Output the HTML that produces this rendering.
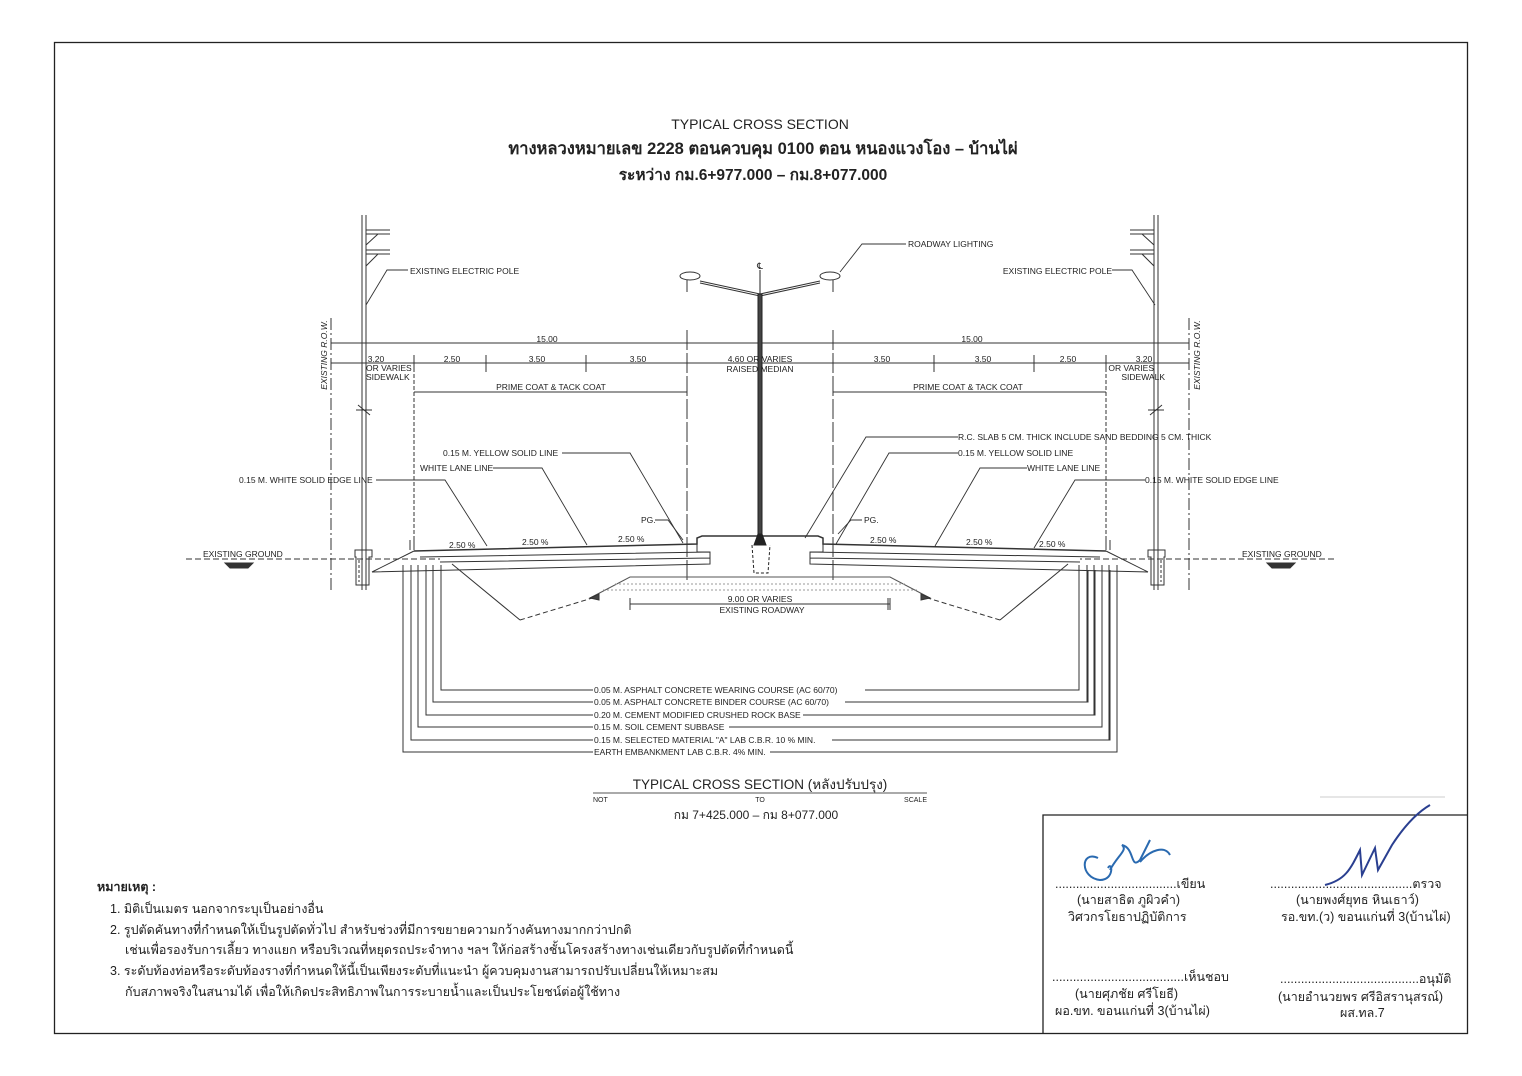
<!DOCTYPE html>
<html><head><meta charset="utf-8"><style>
html,body{margin:0;padding:0;background:#fff;}
svg{display:block;}
text{font-family:"Liberation Sans","DejaVu Sans",sans-serif;fill:#222;}
.s{font-size:8.5px;}
.t{font-size:12.5px;}
</style></head><body>
<svg width="1522" height="1076" viewBox="0 0 1522 1076" xmlns="http://www.w3.org/2000/svg">
<rect x="54.5" y="42.5" width="1413" height="991" fill="none" stroke="#222" stroke-width="1.3"/>
<!-- titles -->
<text x="760" y="129" text-anchor="middle" font-size="14">TYPICAL  CROSS  SECTION</text>
<text x="763" y="154" text-anchor="middle" font-size="16.5" font-weight="bold">ทางหลวงหมายเลข  2228   ตอนควบคุม 0100   ตอน หนองแวงโอง – บ้านไผ่</text>
<text x="753" y="180" text-anchor="middle" font-size="15.5" font-weight="bold">ระหว่าง   กม.6+977.000  –  กม.8+077.000</text>

<g id="half" fill="none" stroke="#333" stroke-width="1">
  <line x1="362" y1="215" x2="362" y2="590"/><line x1="366" y1="215" x2="366" y2="590"/>
  <path d="M366 230 H390 M366 234 H390 M366 250 H390 M366 254 H390 M366 245 L378 234 M366 266 L378 254"/>
  <path d="M355 550 H372 V557 H369 V585 H356 V557 H355 Z"/>
  <path d="M359 560 V582 M366 560 V582" stroke-dasharray="3 2"/>
  <path d="M356 410 H372 M358 405 L370 415" />
  <line x1="331" y1="318" x2="331" y2="591" stroke-dasharray="12 3 2 3"/>
  <line x1="414" y1="356" x2="414" y2="550" stroke-dasharray="4 2"/>
  <line x1="687" y1="330" x2="687" y2="580" stroke-dasharray="20 3"/>
  <line x1="331" y1="343" x2="760" y2="343"/>
  <line x1="331" y1="363" x2="760" y2="363"/>
  <path d="M486 355 V372 M586 355 V372 M414 355 V372"/>
  <line x1="414" y1="392" x2="687" y2="392"/>
  <line x1="186" y1="559" x2="440" y2="559" stroke-dasharray="6 3"/>
  <path d="M225 563 H253 L248 568 H230 Z" fill="#333"/>
  <path d="M414 551 L697 544 V538 L702 536 H760" stroke-width="1.5"/>
  <path d="M372 572 L414 551"/>
  <path d="M420 557 L710 552 M440 562 L710 558 M372 572 L710 564 V552 L697 552 L697 544"/>
  <path d="M452 564 L520 620"/>
  <path d="M520 620 L599 596" stroke-dasharray="5 3"/>
  <path d="M590 598 L630 577 H760" stroke="#555"/>
  <path d="M615 584 H760 M603 590 H760" stroke="#999" stroke-dasharray="2 2"/>
  <path d="M590 598 L599 594 L599 600 Z" fill="#444"/>
  <path d="M630 598 V610 M630 604 H760"/>
  <path d="M403 565 V752 H593 M411 565 V740 H593 M418 565 V727 H593 M426 565 V715 H593 M433 565 V702 H593 M441 565 V690 H593"/>
  <path d="M760 294 L700 281 M760 296 L700 283"/>
  <ellipse cx="690" cy="276" rx="10" ry="4"/>
  <line x1="687" y1="280" x2="687" y2="292"/>
  <path d="M410 550 V540 M414 550 V540"/>
</g>
<use href="#half" transform="translate(1520,0) scale(-1,1)"/>
<g stroke="#222" fill="none">
  <rect x="758" y="294" width="4" height="240" fill="#444"/>
  <path d="M754 545 L758 534 H762 L766 545 Z" fill="#222"/>
  <path d="M752 545 L754 573 H768 L770 545" stroke-dasharray="3 2"/>
  <line x1="760" y1="270" x2="760" y2="294"/>
</g>
<text x="760" y="269" text-anchor="middle" font-size="9">℄</text>
<g stroke="#333"><line x1="630" y1="604" x2="888" y2="604"/><line x1="888" y1="598" x2="888" y2="610"/></g>
<text class="s" x="760" y="602" text-anchor="middle">9.00  OR  VARIES</text>
<text class="s" x="762" y="613" text-anchor="middle">EXISTING ROADWAY</text>

<g fill="none" stroke="#333" stroke-width="0.9">
  <path d="M408 270 H387 L366 305"/>
  <path d="M1112 270 H1132 L1155 305"/>
  <path d="M906 244 H862 L840 272"/>
  <path d="M376 480 H445 L487 546"/>
  <path d="M493 468 H542 L587 545"/>
  <path d="M562 453 H630 L683 543"/>
  <path d="M655 520 H668 L683 540"/>
  <path d="M958 437 H866 L805 538"/>
  <path d="M958 453 H889 L836 544"/>
  <path d="M862 520 H851 L838 534"/>
  <path d="M1027 468 H980 L935 546"/>
  <path d="M1145 480 H1075 L1034 548"/>
</g>
<g class="s">
<text class="s" x="410" y="274">EXISTING ELECTRIC POLE</text>
<text class="s" x="1112" y="274" text-anchor="end">EXISTING ELECTRIC POLE</text>
<text class="s" x="908" y="247">ROADWAY LIGHTING</text>
<text class="s" x="547" y="342" text-anchor="middle">15.00</text>
<text class="s" x="972" y="342" text-anchor="middle">15.00</text>
<text class="s" x="376" y="362" text-anchor="middle">3.20</text>
<text class="s" x="366" y="371">OR  VARIES</text>
<text class="s" x="366" y="380">SIDEWALK</text>
<text class="s" x="452" y="362" text-anchor="middle">2.50</text>
<text class="s" x="537" y="362" text-anchor="middle">3.50</text>
<text class="s" x="638" y="362" text-anchor="middle">3.50</text>
<text class="s" x="760" y="362" text-anchor="middle">4.60  OR  VARIES</text>
<text class="s" x="760" y="372" text-anchor="middle">RAISED  MEDIAN</text>
<text class="s" x="882" y="362" text-anchor="middle">3.50</text>
<text class="s" x="983" y="362" text-anchor="middle">3.50</text>
<text class="s" x="1068" y="362" text-anchor="middle">2.50</text>
<text class="s" x="1144" y="362" text-anchor="middle">3.20</text>
<text class="s" x="1154" y="371" text-anchor="end">OR  VARIES</text>
<text class="s" x="1165" y="380" text-anchor="end">SIDEWALK</text>
<text class="s" x="551" y="390" text-anchor="middle">PRIME  COAT  &amp;  TACK  COAT</text>
<text class="s" x="968" y="390" text-anchor="middle">PRIME  COAT  &amp;  TACK  COAT</text>
<text class="s" x="443" y="456">0.15  M.  YELLOW  SOLID  LINE</text>
<text class="s" x="420" y="471">WHITE  LANE  LINE</text>
<text class="s" x="239" y="483">0.15  M.  WHITE  SOLID  EDGE  LINE</text>
<text class="s" x="641" y="523">PG.</text>
<text class="s" x="958" y="440">R.C.  SLAB  5  CM.  THICK  INCLUDE  SAND  BEDDING  5  CM.  THICK</text>
<text class="s" x="958" y="456">0.15  M.  YELLOW  SOLID  LINE</text>
<text class="s" x="1027" y="471">WHITE  LANE  LINE</text>
<text class="s" x="1145" y="483">0.15  M.  WHITE  SOLID  EDGE  LINE</text>
<text class="s" x="864" y="523">PG.</text>
<text class="s" x="449" y="548">2.50  %</text>
<text class="s" x="522" y="545">2.50  %</text>
<text class="s" x="618" y="542">2.50  %</text>
<text class="s" x="870" y="543">2.50  %</text>
<text class="s" x="966" y="545">2.50  %</text>
<text class="s" x="1039" y="547">2.50  %</text>
<text class="s" x="203" y="557">EXISTING  GROUND</text>
<text class="s" x="1242" y="557">EXISTING  GROUND</text>
<text class="s" transform="translate(327,355) rotate(-90)" text-anchor="middle" font-style="italic" font-size="9">EXISTING R.O.W.</text>
<text class="s" transform="translate(1200,355) rotate(-90)" text-anchor="middle" font-style="italic" font-size="9">EXISTING R.O.W.</text>
</g>
<g stroke="#333" fill="none">
  <path d="M865 690 H1079 V570 M845 702 H1088 V570 M803 715 H1095 V570 M729 727 H1102 V570 M832 740 H1110 V570 M770 752 H1117 V570"/>
</g>
<text class="s" x="594" y="693">0.05  M.  ASPHALT  CONCRETE  WEARING  COURSE  (AC  60/70)</text>
<text class="s" x="594" y="705">0.05  M.  ASPHALT  CONCRETE  BINDER  COURSE  (AC  60/70)</text>
<text class="s" x="594" y="718">0.20  M.  CEMENT  MODIFIED  CRUSHED  ROCK  BASE</text>
<text class="s" x="594" y="730">0.15  M.  SOIL  CEMENT  SUBBASE</text>
<text class="s" x="594" y="743">0.15  M.  SELECTED  MATERIAL  "A"  LAB  C.B.R.  10  %  MIN.</text>
<text class="s" x="594" y="755">EARTH  EMBANKMENT  LAB  C.B.R.  4%  MIN.</text>

<text x="760" y="789" text-anchor="middle" font-size="13.5">TYPICAL  CROSS  SECTION  (หลังปรับปรุง)</text>
<line x1="593" y1="793" x2="927" y2="793" stroke="#555"/>
<text x="593" y="802" font-size="7">NOT</text>
<text x="760" y="802" font-size="7" text-anchor="middle">TO</text>
<text x="927" y="802" font-size="7" text-anchor="end">SCALE</text>
<text x="756" y="819" text-anchor="middle" font-size="12">กม  7+425.000  –  กม  8+077.000</text>

<text x="97" y="891" font-size="12.5" font-weight="bold">หมายเหตุ :</text>
<text class="t" x="110" y="913">1.  มิติเป็นเมตร  นอกจากระบุเป็นอย่างอื่น</text>
<text class="t" x="110" y="934">2.  รูปตัดคันทางที่กำหนดให้เป็นรูปตัดทั่วไป  สำหรับช่วงที่มีการขยายความกว้างคันทางมากกว่าปกติ</text>
<text class="t" x="125" y="954">เช่นเพื่อรองรับการเลี้ยว  ทางแยก  หรือบริเวณที่หยุดรถประจำทาง  ฯลฯ  ให้ก่อสร้างชั้นโครงสร้างทางเช่นเดียวกับรูปตัดที่กำหนดนี้</text>
<text class="t" x="110" y="975">3.  ระดับท้องท่อหรือระดับท้องรางที่กำหนดให้นี้เป็นเพียงระดับที่แนะนำ  ผู้ควบคุมงานสามารถปรับเปลี่ยนให้เหมาะสม</text>
<text class="t" x="125" y="996">กับสภาพจริงในสนามได้  เพื่อให้เกิดประสิทธิภาพในการระบายน้ำและเป็นประโยชน์ต่อผู้ใช้ทาง</text>

<path d="M1043 1033 V815 H1467" fill="none" stroke="#222" stroke-width="1.3"/>
<line x1="1320" y1="797" x2="1445" y2="797" stroke="#ccc"/>
<path d="M1098 858 C1080 850 1080 878 1100 880 C1115 880 1112 860 1108 868 M1110 870 C1118 855 1128 850 1122 845 C1135 848 1130 870 1140 860 L1150 840 M1140 862 C1150 850 1165 845 1170 855" fill="none" stroke="#2a6ab0" stroke-width="2"/>
<path d="M1325 885 C1345 880 1350 870 1360 850 L1362 875 L1375 848 L1378 870 L1392 845 M1392 845 C1405 825 1418 812 1430 805" fill="none" stroke="#2a3f90" stroke-width="2"/>
<g class="t" font-size="12">
<text x="1055" y="888">...................................เขียน</text>
<text x="1077" y="904">(นายสาธิต  ภูผิวคำ)</text>
<text x="1068" y="921">วิศวกรโยธาปฏิบัติการ</text>
<text x="1270" y="888">.........................................ตรวจ</text>
<text x="1296" y="904">(นายพงศ์ยุทธ  หินเธาว์)</text>
<text x="1281" y="921">รอ.ขท.(ว)  ขอนแก่นที่ 3(บ้านไผ่)</text>
<text x="1052" y="981">......................................เห็นชอบ</text>
<text x="1075" y="998">(นายศุภชัย   ศรีโยธี)</text>
<text x="1055" y="1015">ผอ.ขท.  ขอนแก่นที่ 3(บ้านไผ่)</text>
<text x="1280" y="983">........................................อนุมัติ</text>
<text x="1278" y="1001">(นายอำนวยพร  ศรีอิสรานุสรณ์)</text>
<text x="1340" y="1017">ผส.ทล.7</text>
</g>
</svg>
</body></html>
